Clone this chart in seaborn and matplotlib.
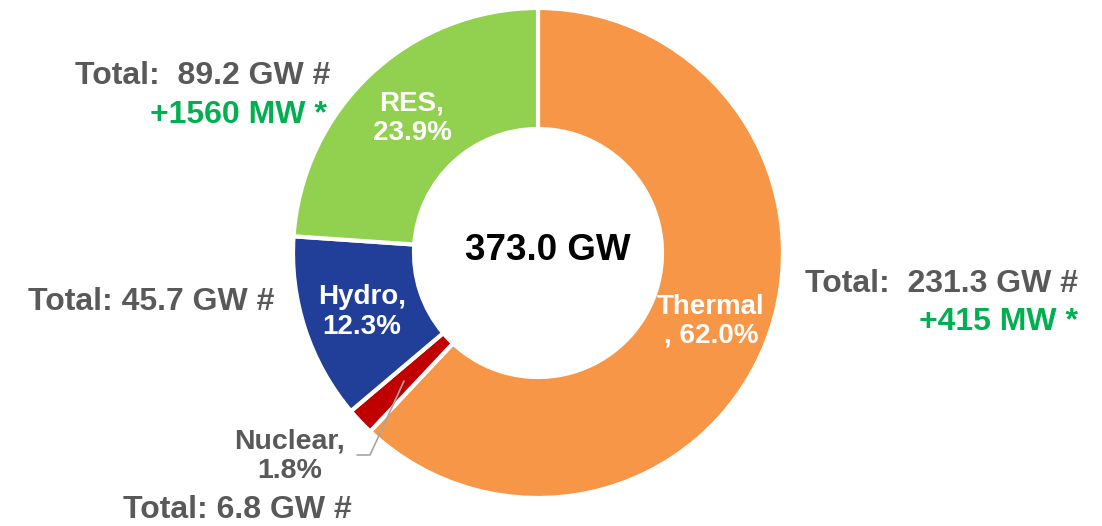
import matplotlib.pyplot as plt
import seaborn as sns

# installed capacity by source (GW)
sources = ['Thermal', 'Nuclear', 'Hydro', 'RES']
capacity_gw = [231.3, 6.8, 45.7, 89.2]
shares = ['62.0%', '1.8%', '12.3%', '23.9%']
added_mw = {'Thermal': '+415 MW *', 'RES': '+1560 MW *'}
total_gw = 373.0

colors = ['#F79646', '#C00000', '#213F99', '#92D050']
gray = '#595959'
green = '#00B050'

sns.set_theme(style='white')
plt.rcParams['font.family'] = ['Liberation Sans', 'DejaVu Sans']
plt.rcParams['font.weight'] = 'bold'

fig = plt.figure(figsize=(11.02, 5.26), dpi=100)
ax = fig.add_axes([0, 0, 1, 1])
H = 526

# donut, drawn in a pixel-like coordinate frame
ax.pie(capacity_gw, colors=colors, startangle=90, counterclock=False,
       center=(538, H - 253), radius=245,
       wedgeprops=dict(width=121, edgecolor='white', linewidth=3))
ax.set_xlim(0, 1102)
ax.set_ylim(0, H)
ax.set_aspect('equal')
ax.axis('off')

def y(v):
    return H - v

# centre total
ax.text(548, y(250), f'{total_gw:.1f} GW', ha='center', va='center',
        fontsize=26.5, color='black', fontweight='bold')

# labels inside the wedges
ax.text(711, y(321), f'{sources[0]}\n, {shares[0]}', ha='center', va='center',
        fontsize=20, color='white', linespacing=1.15)
ax.text(362, y(312), f'{sources[2]},\n{shares[2]}', ha='center', va='center',
        fontsize=20, color='white', linespacing=1.15)
ax.text(412, y(118), f'{sources[3]},\n{shares[3]}', ha='center', va='center',
        fontsize=20, color='white', linespacing=1.15)

# nuclear label with leader line
ax.text(290, y(456), f'{sources[1]},\n{shares[1]}', ha='center', va='center',
        fontsize=20.5, color=gray, linespacing=1.15)
ax.plot([404, 370, 357], [y(381), y(455), y(455)], color='#A6A6A6', lw=1.2)

# totals
fs = 23
ax.text(330, y(76), f'Total:  {capacity_gw[3]} GW #', ha='right', va='center',
        fontsize=fs, color=gray)
ax.text(327, y(115), added_mw['RES'], ha='right', va='center',
        fontsize=fs, color=green)
ax.text(28, y(302), f'Total: {capacity_gw[2]} GW #', ha='left', va='center',
        fontsize=fs, color=gray)
ax.text(1078, y(284), f'Total:  {capacity_gw[0]} GW #', ha='right', va='center',
        fontsize=fs, color=gray)
ax.text(1078, y(322), added_mw['Thermal'], ha='right', va='center',
        fontsize=fs, color=green)
ax.text(237, y(510), f'Total: {capacity_gw[1]} GW #', ha='center', va='center',
        fontsize=fs, color=gray)

fig.savefig('out.png', dpi=100)
